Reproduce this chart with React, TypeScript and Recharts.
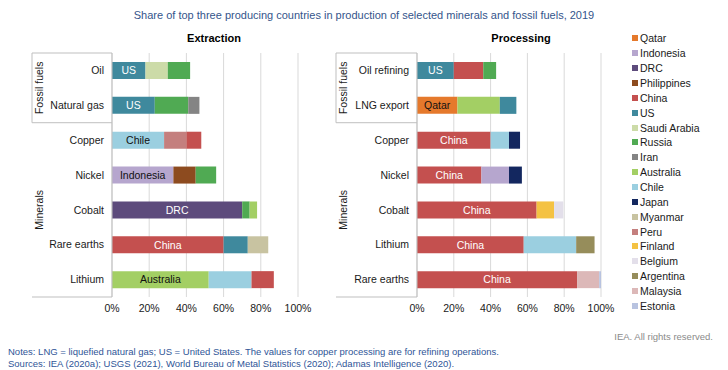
import React from "react";
import { BarChart, Bar, XAxis, YAxis, CartesianGrid, Cell, LabelList } from "recharts";

const chartTitle =
  "Share of top three producing countries in production of selected minerals and fossil fuels, 2019";
const notes = "Notes: LNG = liquefied natural gas; US = United States. The values for copper processing are for refining operations.";
const sources = "Sources: IEA (2020a); USGS (2021), World Bureau of Metal Statistics (2020); Adamas Intelligence (2020).";

const xTicks = [0, 20, 40, 60, 80, 100];

// Extraction
const extractionRows = ["Oil", "Natural gas", "Copper", "Nickel", "Cobalt", "Rare earths", "Lithium"];
const extractionFirst = ["US", "US", "Chile", "Indonesia", "DRC", "China", "Australia"];
const extractionFirstShare = [18, 23, 28, 33, 70, 60, 52];
const extractionSecond = ["Saudi Arabia", "Russia", "Peru", "Philippines", "Russia", "US", "Chile"];
const extractionSecondShare = [12, 18, 12, 12, 4, 13, 23];
const extractionThird = ["Russia", "Iran", "China", "Russia", "Australia", "Myanmar", "China"];
const extractionThirdShare = [12, 6, 8, 11, 4, 11, 12];

// Processing
const processingRows = ["Oil refining", "LNG export", "Copper", "Nickel", "Cobalt", "Lithium", "Rare earths"];
const processingFirst = ["US", "Qatar", "China", "China", "China", "China", "China"];
const processingFirstShare = [20, 22, 40, 35, 65, 58, 87];
const processingSecond = ["China", "Australia", "Chile", "Indonesia", "Finland", "Chile", "Malaysia"];
const processingSecondShare = [16, 23, 10, 15, 9.5, 28.5, 12];
const processingThird = ["Russia", "US", "Japan", "Japan", "Belgium", "Argentina", "Estonia"];
const processingThirdShare = [7, 9, 6, 7, 5, 10, 1];

const groupLabels = ["Fossil fuels", "Minerals"];
const groupSizes = [2, 5];

const legendCountries = [
  "Qatar", "Indonesia", "DRC", "Philippines", "China", "US", "Saudi Arabia", "Russia", "Iran",
  "Australia", "Chile", "Japan", "Myanmar", "Peru", "Finland", "Belgium", "Argentina", "Malaysia", "Estonia",
];

const countryColors: Record<string, string> = {
  Qatar: "#E5792C",
  Indonesia: "#B6A6CE",
  DRC: "#5D4B7C",
  Philippines: "#8D4B1F",
  China: "#C4504F",
  US: "#3F899D",
  "Saudi Arabia": "#CCDBA8",
  Russia: "#50AA53",
  Iran: "#848484",
  Australia: "#A3CF64",
  Chile: "#9BCFE0",
  Japan: "#13275F",
  Myanmar: "#C8C3A1",
  Peru: "#C47F7E",
  Finland: "#F4C243",
  Belgium: "#E3DFEA",
  Argentina: "#968D5B",
  Malaysia: "#DCB8B8",
  Estonia: "#B8C3E0",
};
const darkLabels = ["US", "DRC", "China"];

const FONT = '"Liberation Sans", Arial, sans-serif';
const PLOT_TOP = 53;
const PLOT_HEIGHT = 244;
const CHART_HEIGHT = 330;

function buildRows(rows: string[], c1: string[], s1: number[], c2: string[], s2: number[], c3: string[], s3: number[]) {
  return rows.map((row, i) => ({
    row,
    firstCountry: c1[i],
    first: s1[i],
    secondCountry: c2[i],
    second: s2[i],
    thirdCountry: c3[i],
    third: s3[i],
  }));
}

const extractionData = buildRows(
  extractionRows, extractionFirst, extractionFirstShare, extractionSecond, extractionSecondShare,
  extractionThird, extractionThirdShare,
);
const processingData = buildRows(
  processingRows, processingFirst, processingFirstShare, processingSecond, processingSecondShare,
  processingThird, processingThirdShare,
);

function makeTick(rowCount: number, groupWidth: number) {
  const band = PLOT_HEIGHT / rowCount;
  return (props: any) => {
    const { x, y, payload } = props;
    const index = props.index ?? payload.index;
    const axisX = x + 8;
    const left = axisX - groupWidth;
    const els: React.ReactNode[] = [
      <text key="t" x={x} y={y} dy="0.35em" textAnchor="end" fontSize={10.5} fill="#1a1a1a" fontFamily={FONT}>
        {payload.value}
      </text>,
    ];
    let start = 0;
    groupSizes.forEach((count, gi) => {
      if (index === start) {
        const top = y - band / 2;
        const bottom = top + count * band;
        els.push(<line key={"h" + gi} x1={left} x2={axisX} y1={top} y2={top} stroke="#BFBFBF" />);
        if (gi === 0) {
          els.push(<line key={"v" + gi} x1={left} x2={left} y1={top} y2={bottom} stroke="#BFBFBF" />);
        }
        if (gi === groupSizes.length - 1) {
          els.push(<line key={"b" + gi} x1={left} x2={axisX} y1={bottom} y2={bottom} stroke="#BFBFBF" />);
        }
        const cy = (top + bottom) / 2;
        els.push(
          <text key={"g" + gi} x={left + 7} y={cy} transform={`rotate(-90 ${left + 7} ${cy})`} textAnchor="middle"
            dy="0.35em" fontSize={10.5} fill="#1a1a1a" fontFamily={FONT}>
            {groupLabels[gi]}
          </text>,
        );
      }
      start += count;
    });
    return <g>{els}</g>;
  };
}

const renderFirstLabel = (props: any) => {
  const { x, y, width, height, value } = props;
  return (
    <text x={x + width / 2} y={y + height / 2} dy="0.36em" textAnchor="middle" fontSize={10.5} fontFamily={FONT}
      fill={darkLabels.includes(value) ? "#ffffff" : "#111111"}>
      {value}
    </text>
  );
};

function Panel({ data, yWidth, width, right, groupWidth }: any) {
  return (
    <BarChart width={width} height={CHART_HEIGHT} data={data} layout="vertical"
      margin={{ top: PLOT_TOP, right, bottom: CHART_HEIGHT - PLOT_TOP - PLOT_HEIGHT - 20, left: 0 }}>
      <CartesianGrid horizontal={false} stroke="#D9D9D9" />
      <XAxis type="number" domain={[0, 100]} ticks={xTicks} tickFormatter={(v) => v + "%"} axisLine={false}
        tickLine={false} height={20} interval={0} tick={{ fontSize: 10.5, fill: "#1a1a1a", fontFamily: FONT }} />
      <YAxis type="category" dataKey="row" width={yWidth} tickLine={false} axisLine={{ stroke: "#BFBFBF" }}
        interval={0} tick={makeTick(data.length, groupWidth)} />
      <Bar dataKey="first" stackId="s" barSize={17} isAnimationActive={false}>
        {data.map((d: any) => <Cell key={d.row} fill={countryColors[d.firstCountry]} />)}
        <LabelList dataKey="firstCountry" content={renderFirstLabel} />
      </Bar>
      <Bar dataKey="second" stackId="s" barSize={17} isAnimationActive={false}>
        {data.map((d: any) => <Cell key={d.row} fill={countryColors[d.secondCountry]} />)}
      </Bar>
      <Bar dataKey="third" stackId="s" barSize={17} isAnimationActive={false}>
        {data.map((d: any) => <Cell key={d.row} fill={countryColors[d.thirdCountry]} />)}
      </Bar>
    </BarChart>
  );
}

export default function App() {
  return (
    <div style={{ position: "relative", width: 728, height: 370, background: "#fff", fontFamily: FONT, overflow: "hidden" }}>
      <style>{"body{margin:0}"}</style>
      <div style={{ position: "absolute", top: 9, left: 0, width: 728, textAlign: "center", fontSize: 11, color: "#34558B" }}>
        {chartTitle}
      </div>
      <div style={{ position: "absolute", top: 32, left: 164, width: 100, textAlign: "center", fontSize: 11, fontWeight: "bold" }}>
        Extraction
      </div>
      <div style={{ position: "absolute", top: 32, left: 471, width: 100, textAlign: "center", fontSize: 11, fontWeight: "bold" }}>
        Processing
      </div>
      <div style={{ position: "absolute", top: 0, left: 0 }}>
        <Panel data={extractionData} yWidth={112} width={322} right={24} groupWidth={80} />
      </div>
      <div style={{ position: "absolute", top: 0, left: 310 }}>
        <Panel data={processingData} yWidth={107} width={318} right={27} groupWidth={81} />
      </div>
      <div style={{ position: "absolute", top: 31, left: 632 }}>
        {legendCountries.map((c) => (
          <div key={c} style={{ height: 14.86, display: "flex", alignItems: "center", fontSize: 10.5, color: "#1a1a1a" }}>
            <span style={{ width: 6, height: 6, background: countryColors[c], marginRight: 2, display: "inline-block" }} />
            {c}
          </div>
        ))}
      </div>
      <div style={{ position: "absolute", top: 331, right: 15, fontSize: 9.5, color: "#8a8a8a" }}>IEA. All rights reserved.</div>
      <div style={{ position: "absolute", top: 346, left: 8, fontSize: 9.5, color: "#2F5597", lineHeight: "12px" }}>
        <div>{notes}</div>
        <div>{sources}</div>
      </div>
    </div>
  );
}
